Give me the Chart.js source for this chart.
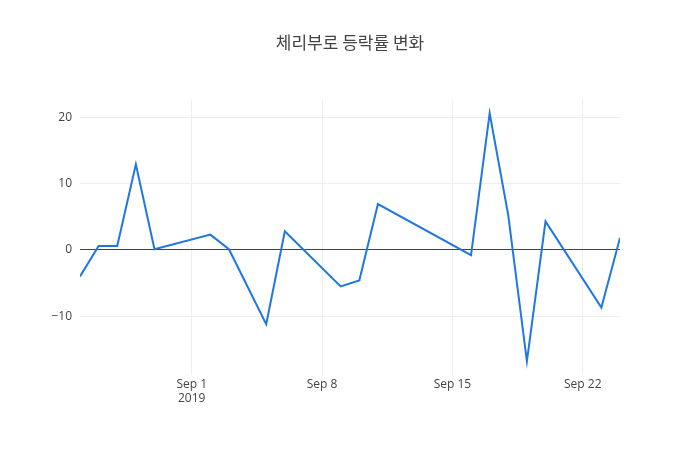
<!DOCTYPE html>
<html>
<head>
<meta charset="utf-8">
<script src="https://cdn.jsdelivr.net/npm/chart.js@4"></script>
<style>
  html, body { margin: 0; padding: 0; background: #fff; }
  #wrap { width: 700px; height: 450px; position: relative; }
</style>
</head>
<body>
<div id="wrap"><canvas id="chart"></canvas></div>
<script>
// ── Data ──────────────────────────────────────────────────────
// days relative to Sep 1 2019
const dayOffsets = [-6, -5, -4, -3, -2, 1, 2, 4, 5, 8, 9, 10, 15, 16, 17, 18, 19, 22, 23];
const changeRates = [-4.0, 0.6, 0.6, 12.9, 0.1, 2.3, 0.1, -11.2, 2.8, -5.5, -4.6, 6.9, -0.8, 20.6, 5.2, -16.8, 4.3, -8.7, 1.8];
const tickDays = [0, 7, 14, 21];
const tickLabels = [['Sep 1', '2019'], 'Sep 8', 'Sep 15', 'Sep 22'];
const titleText = '체리부로 등락률 변화';

const TEXT = '#444';
const GRID = '#eeeeee';

// title centred on the full canvas, like the reference
const titlePlugin = {
  id: 'pageTitle',
  afterDraw(chart) {
    const ctx = chart.ctx;
    ctx.save();
    ctx.font = '17px "Noto Sans CJK KR"';
    ctx.fillStyle = TEXT;
    ctx.textAlign = 'center';
    ctx.textBaseline = 'middle';
    ctx.fillText(titleText, 350, 43);
    ctx.restore();
  },
};

new Chart(document.getElementById('chart'), {
  type: 'line',
  data: {
    datasets: [{
      data: dayOffsets.map((d, i) => ({ x: d, y: changeRates[i] })),
      borderColor: '#1f77e4',
      borderWidth: 2,
      pointRadius: 0,
      tension: 0,
      fill: false,
    }],
  },
  options: {
    responsive: true, maintainAspectRatio: false, animation: false,
    layout: { padding: { left: 0, right: 80, top: 100, bottom: 42 } },
    plugins: { legend: { display: false }, tooltip: { enabled: false } },
    scales: {
      x: {
        type: 'linear', min: -6, max: 23,
        afterBuildTicks: (s) => { s.ticks = tickDays.map(v => ({ value: v })); },
        ticks: {
          color: TEXT, font: { family: 'Open Sans', size: 12 }, maxRotation: 0, padding: 2,
          callback: (v) => tickLabels[tickDays.indexOf(v)],
        },
        grid: { color: GRID, drawTicks: false },
        border: { display: false },
      },
      y: {
        min: -18.9, max: 22.6,
        afterFit: (s) => { s.width = 80; },
        afterBuildTicks: (s) => { s.ticks = [-10, 0, 10, 20].map(v => ({ value: v })); },
        ticks: {
          color: TEXT, font: { family: 'Open Sans', size: 12 }, padding: 8,
          callback: (v) => v < 0 ? '\u2212' + Math.abs(v) : String(v),
        },
        grid: {
          drawTicks: false,
          color: (c) => c.tick && c.tick.value === 0 ? '#444' : GRID,
        },
        border: { display: false },
      },
    },
  },
  plugins: [titlePlugin],
});
</script>
</body>
</html>
